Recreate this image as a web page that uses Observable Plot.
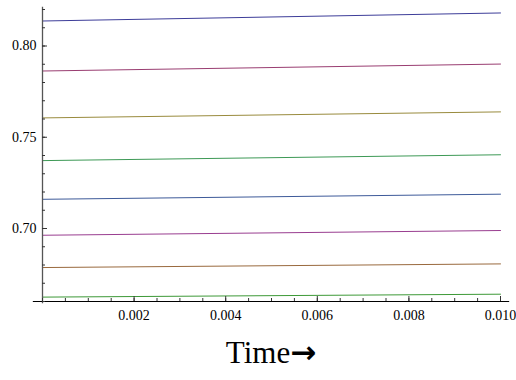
<!DOCTYPE html>
<html>
<head>
<meta charset="utf-8">
<script src="https://cdn.jsdelivr.net/npm/d3@7"></script>
<script src="https://cdn.jsdelivr.net/npm/@observablehq/plot@0.6"></script>
<style>
  html, body { margin: 0; padding: 0; background: #fff; }
  #chart { width: 516px; height: 330px; }
  #chart svg text { font-family: "Liberation Serif", "Times New Roman", serif !important; }
  #xlabel { font-family: "Liberation Serif", "Times New Roman", serif; font-size: 31px; color: #000; text-align: center; width: 516px; padding-left: 26px; box-sizing: border-box; line-height: 1; margin-top: 7px; white-space: nowrap; }
  #xlabel .arr { font-family: "DejaVu Sans", sans-serif; font-weight: bold; font-size: 31px; }
</style>
</head>
<body>
<div id="chart"></div>
<div id="xlabel">Time<span class="arr">→</span></div>
<script>
// Time endpoints of each curve
const times = [0, 0.01];
// Curve values at t = 0 and t = 0.010 (top to bottom)
const startValues = [0.8137, 0.7863, 0.7606, 0.7372, 0.7160, 0.6963, 0.6786, 0.6624];
const endValues   = [0.8181, 0.7901, 0.7639, 0.7404, 0.7188, 0.6989, 0.6806, 0.6640];
const seriesNames = ["s1", "s2", "s3", "s4", "s5", "s6", "s7", "s8"];
const seriesColors = ["#3d3d99", "#993d71", "#998b3d", "#3d9956", "#3d5a99", "#993d90", "#99693d", "#3d9937"];
// Tick values
const xMajorTicks = [0.002, 0.004, 0.006, 0.008, 0.010];
const xMinorTicks = d3.range(0, 21).map(i => i * 0.0005);
const yMajorTicks = [0.70, 0.75, 0.80];
const yMinorTicks = [0.66, 0.67, 0.68, 0.69, 0.70, 0.71, 0.72, 0.73, 0.74, 0.75, 0.76, 0.77, 0.78, 0.79, 0.80, 0.81, 0.82];

const rows = [];
seriesNames.forEach((s, i) => {
  rows.push({series: s, t: times[0], v: startValues[i]});
  rows.push({series: s, t: times[1], v: endValues[i]});
});

const fontFam = "Liberation Serif, Times New Roman, serif";

const plot = Plot.plot({
  width: 516,
  height: 330,
  marginLeft: 42,
  marginRight: 16,
  marginTop: 9,
  marginBottom: 29,
  style: {fontFamily: fontFam, fontSize: "12px", color: "#000", background: "#fff", overflow: "visible"},
  x: {domain: [0, 0.01]},
  y: {domain: [0.66, 0.82]},
  color: {domain: seriesNames, range: seriesColors},
  marks: [
    Plot.line(rows, {x: "t", y: "v", z: "series", stroke: "series", strokeWidth: 1}),
    // axis lines
    Plot.ruleX([0], {y1: 0.6588, y2: 0.8212, stroke: "#555", strokeWidth: 1.3}),
    Plot.ruleY([0.66], {x1: -0.0002, x2: 0.0102, stroke: "#000", strokeWidth: 1.1}),
    // y ticks
    Plot.axisY({ticks: yMinorTicks, tickSize: -3, tickFormat: () => "", label: null, stroke: "#333"}),
    Plot.axisY({ticks: yMajorTicks, tickSize: -5, tickPadding: 11, tickFormat: d3.format(".2f"), label: null, stroke: "#333", fontSize: 14, fontFamily: fontFam, fill: "#000"}),
    // x ticks
    Plot.axisX({ticks: xMinorTicks, tickSize: -3, tickFormat: () => "", label: null, stroke: "#333"}),
    Plot.axisX({ticks: xMajorTicks, tickSize: -5, tickPadding: 14, tickFormat: d3.format(".3f"), label: null, stroke: "#333", fontSize: 14, fontFamily: fontFam, fill: "#000"})
  ]
});
document.getElementById("chart").appendChild(plot);
</script>
</body>
</html>
